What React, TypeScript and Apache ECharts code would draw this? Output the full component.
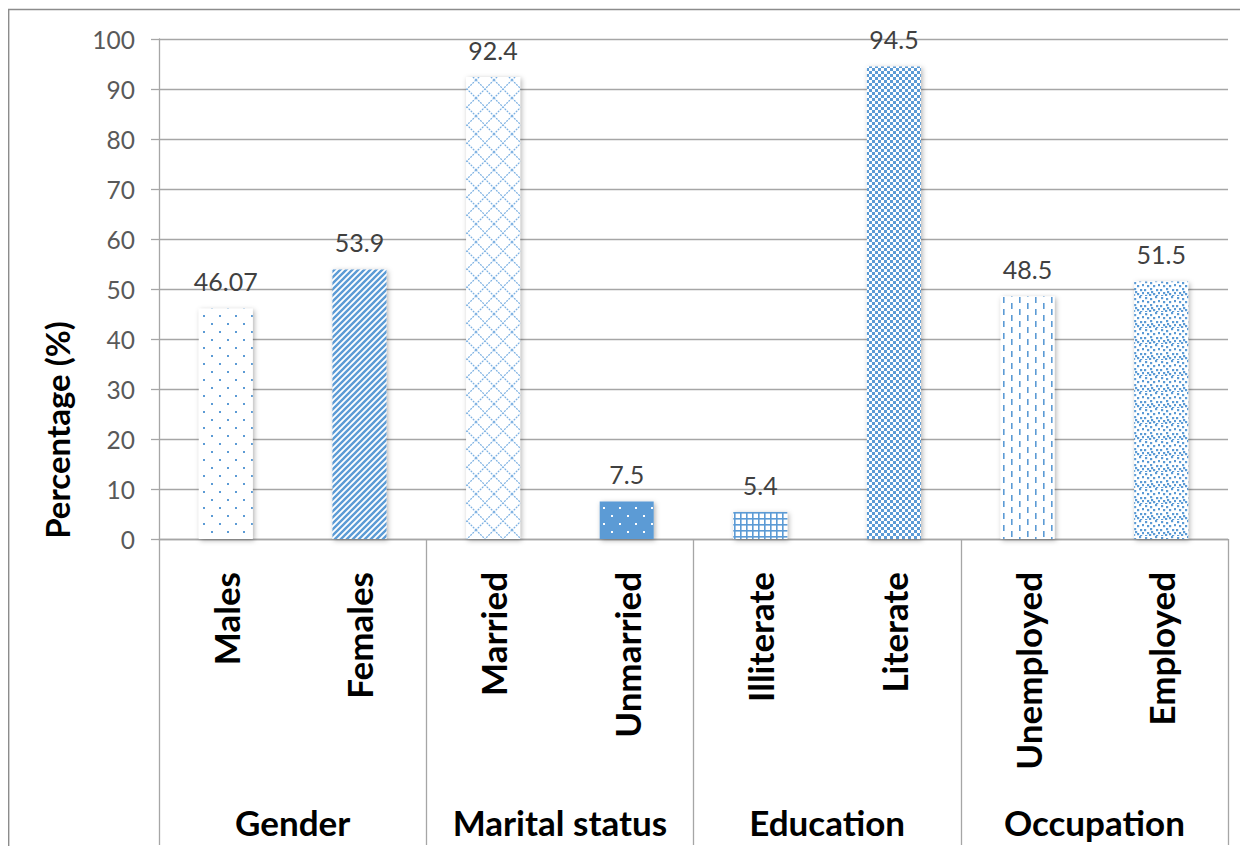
import React, { useEffect, useRef } from "react";
import * as echarts from "echarts";

const categories = ["Males", "Females", "Married", "Unmarried", "Illiterate", "Literate", "Unemployed", "Employed"];
const values = [46.07, 53.9, 92.4, 7.5, 5.4, 94.5, 48.5, 51.5];
const groups = ["Gender", "Marital status", "Education", "Occupation"];
const yMin = 0;
const yMax = 100;
const yInterval = 10;
const yTitle = "Percentage (%)";

const FONT = "Lato, 'Open Sans', sans-serif";
const BLUE = "#5B9BD5";
const GRID_GRAY = "#A6A6A6";

type Draw = (ctx: CanvasRenderingContext2D, w: number, h: number) => void;

function tile(w: number, h: number, bg: string, draw: Draw) {
  const c = document.createElement("canvas");
  c.width = w;
  c.height = h;
  const ctx = c.getContext("2d")!;
  ctx.fillStyle = bg;
  ctx.fillRect(0, 0, w, h);
  draw(ctx, w, h);
  return c;
}

function makePatterns() {
  // 1 sparse dots
  const dots = tile(16, 16, "#ffffff", (ctx) => {
    ctx.fillStyle = BLUE;
    ctx.fillRect(3, 3, 2, 2);
    ctx.fillRect(11, 11, 2, 2);
  });
  // 2 upward diagonal stripes
  const stripes = tile(6, 6, "#ffffff", (ctx) => {
    ctx.strokeStyle = BLUE;
    ctx.lineWidth = 2.4;
    ctx.beginPath();
    ctx.moveTo(-3, 3); ctx.lineTo(3, -3);
    ctx.moveTo(0, 6); ctx.lineTo(6, 0);
    ctx.moveTo(3, 9); ctx.lineTo(9, 3);
    ctx.stroke();
  });
  // 3 diamond lattice
  const lattice = tile(18, 18, "#ffffff", (ctx) => {
    ctx.strokeStyle = "#7DB1E2";
    ctx.lineWidth = 1.2;
    ctx.setLineDash([2, 1]);
    ctx.beginPath();
    ctx.moveTo(0, 0); ctx.lineTo(18, 18);
    ctx.moveTo(18, 0); ctx.lineTo(0, 18);
    ctx.stroke();
  });
  // 4 inverted dots
  const invDots = tile(16, 16, BLUE, (ctx) => {
    ctx.fillStyle = "#ffffff";
    ctx.fillRect(3, 3, 2, 2);
    ctx.fillRect(11, 11, 2, 2);
  });
  // 5 small grid
  const grid = tile(6, 6, "#ffffff", (ctx) => {
    ctx.fillStyle = BLUE;
    ctx.fillRect(0, 0, 6, 1.6);
    ctx.fillRect(0, 0, 1.6, 6);
  });
  // 6 checkerboard
  const checker = tile(6, 6, "#ffffff", (ctx) => {
    ctx.fillStyle = BLUE;
    ctx.fillRect(0, 0, 3, 3);
    ctx.fillRect(3, 3, 3, 3);
  });
  // 7 dashed vertical
  const dashed = tile(16, 12, "#ffffff", (ctx) => {
    ctx.fillStyle = BLUE;
    ctx.fillRect(3, 1, 1.6, 6);
    ctx.fillRect(11, 7, 1.6, 6);
    ctx.fillRect(11, -5, 1.6, 6);
  });
  // 8 confetti
  const confetti = tile(16, 16, "#ffffff", (ctx) => {
    ctx.fillStyle = BLUE;
    const pts = [
      [1, 1], [6, 2], [11, 0], [3, 5], [9, 5], [14, 4], [0, 9], [6, 8],
      [12, 9], [3, 12], [9, 13], [14, 12], [7, 11], [12, 15], [1, 15], [5, 14],
    ];
    pts.forEach(([x, y]) => ctx.fillRect(x, y, 2.2, 2.2));
  });
  return [dots, stripes, lattice, invDots, grid, checker, dashed, confetti];
}

export default function App() {
  const ref = useRef<HTMLDivElement>(null);

  useEffect(() => {
    if (!ref.current) return;
    const chart = echarts.init(ref.current, undefined, { renderer: "svg" });
    const patterns = makePatterns();

    const option: any = {
      animation: false,
      backgroundColor: "#ffffff",
      textStyle: { fontFamily: FONT },
      grid: { left: 151, right: 12, top: 31, bottom: 307, containLabel: false },
      xAxis: [
        {
          type: "category",
          data: categories,
          position: "bottom",
          axisLine: { show: true, lineStyle: { color: GRID_GRAY, width: 1.3 } },
          axisTick: { show: false },
          axisLabel: {
            interval: 0,
            rotate: 90,
            margin: 33,
            fontSize: 35,
            fontWeight: "bold",
            color: "#000000",
            fontFamily: FONT,
          },
        },
        {
          type: "category",
          data: groups,
          position: "bottom",
          axisLine: { show: false },
          axisTick: { show: true, interval: 0, length: 306, lineStyle: { color: GRID_GRAY, width: 1.3 } },
          axisLabel: {
            interval: 0,
            margin: 283,
            verticalAlign: "middle",
            fontSize: 35,
            fontWeight: "bold",
            color: "#000000",
            fontFamily: FONT,
          },
        },
      ],
      yAxis: {
        type: "value",
        min: yMin,
        max: yMax,
        interval: yInterval,
        axisLine: { show: true, lineStyle: { color: GRID_GRAY, width: 1.3 } },
        axisTick: { show: true, length: 8, lineStyle: { color: GRID_GRAY, width: 1.3 } },
        axisLabel: { margin: 24, fontSize: 24.5, color: "#595959", fontFamily: FONT },
        splitLine: { show: true, lineStyle: { color: GRID_GRAY, width: 1.3 } },
      },
      graphic: [
        {
          type: "polyline",
          shape: { points: [[0.7, 838], [0.7, 1.5], [1232, 1.5]] },
          style: { fill: "none", stroke: "#8C8C8C", lineWidth: 1.4 },
          silent: true,
        },
        {
          type: "text",
          x: 49,
          y: 422,
          rotation: Math.PI / 2,
          style: {
            text: yTitle,
            font: `bold 33px ${FONT}`,
            fill: "#000000",
            textAlign: "center",
            textVerticalAlign: "middle",
          },
          silent: true,
        },
      ],
      series: [
        {
          type: "bar",
          xAxisIndex: 0,
          yAxisIndex: 0,
          barWidth: 54,
          data: values.map((v, i) => ({
            value: v,
            itemStyle: {
              color: { image: patterns[i], repeat: "repeat" },
              shadowBlur: 5,
              shadowColor: "rgba(0,0,0,0.3)",
              shadowOffsetX: 1.5,
              shadowOffsetY: 1.5,
            },
          })),
          label: {
            show: true,
            position: "top",
            distance: 15,
            fontSize: 25,
            color: "#404040",
            fontFamily: FONT,
          },
        },
      ],
    };

    chart.setOption(option);
    return () => chart.dispose();
  }, []);

  return <div ref={ref} style={{ width: 1232, height: 838 }} />;
}
